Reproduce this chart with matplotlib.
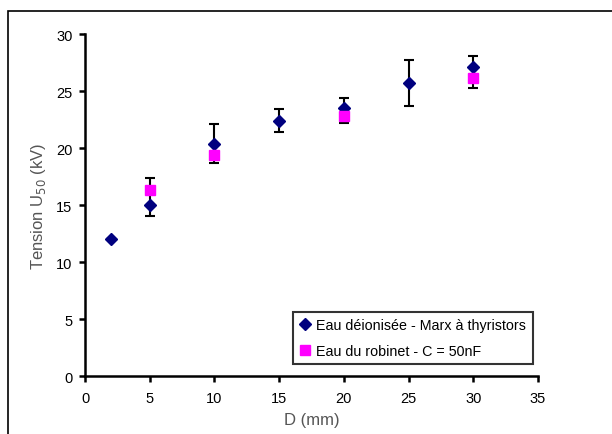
import matplotlib
matplotlib.use("Agg")
import matplotlib.pyplot as plt
from matplotlib.patches import Rectangle

plt.rcParams['font.family'] = ['Liberation Sans', 'DejaVu Sans']

# Eau déionisée - Marx à thyristors
d_deion = [2, 5, 10, 15, 20, 25, 30]
u_deion = [12.0, 15.0, 20.35, 22.4, 23.55, 25.7, 27.1]
err_low = [0, 1.0, 1.65, 1.0, 1.35, 2.0, 1.8]
err_high = [0, 2.4, 1.8, 1.05, 0.85, 2.05, 0.95]

# Eau du robinet - C = 50nF
d_tap = [5, 10, 20, 30]
u_tap = [16.3, 19.4, 22.85, 26.15]

fig = plt.figure(figsize=(6.12, 4.35), dpi=100)
ax = fig.add_axes([0.139, 0.1333, 0.74, 0.7862])

# outer frame (partly cut off at right / bottom)
fig.patches.append(Rectangle((8 / 612, -0.1), 2.0, (435 - 12) / 435 + 0.1,
                             transform=fig.transFigure, fill=False,
                             edgecolor='black', linewidth=1.2))

ax.errorbar(d_deion, u_deion, yerr=[err_low, err_high], fmt='none',
            ecolor='black', elinewidth=1.5, capsize=3.5, capthick=1.5, zorder=2)
ax.plot(d_deion, u_deion, linestyle='none', marker='D', markersize=6.5,
        color='#00007f', label='Eau déionisée - Marx à thyristors', zorder=3)
ax.plot(d_tap, u_tap, linestyle='none', marker='s', markersize=7,
        color='#ff00ff', label='Eau du robinet - C = 50nF', zorder=4)

ax.set_xlim(0, 35)
ax.set_ylim(0, 30)
ax.set_xticks(range(0, 36, 5))
ax.set_yticks(range(0, 31, 5))

for s in ['top', 'right']:
    ax.spines[s].set_visible(False)
for s in ['left', 'bottom']:
    ax.spines[s].set_linewidth(1.8)
ax.tick_params(direction='out', length=4, width=1.8, labelsize=10.5, pad=5)
ax.tick_params(axis='x', pad=7)

ax.set_xlabel('D (mm)', color='#555555', fontsize=12, labelpad=5)
ax.set_ylabel('Tension U$_{50}$ (kV)', color='#555555', fontsize=12, labelpad=6)

leg = ax.legend(loc='lower right', bbox_to_anchor=(0.988, 0.035), fontsize=10.3,
                frameon=True, fancybox=False, edgecolor='black',
                handlelength=0.8, handletextpad=0.4, borderpad=0.45,
                labelspacing=0.8, borderaxespad=0)
leg.get_frame().set_linewidth(1.5)

fig.savefig('out.png', dpi=100)
